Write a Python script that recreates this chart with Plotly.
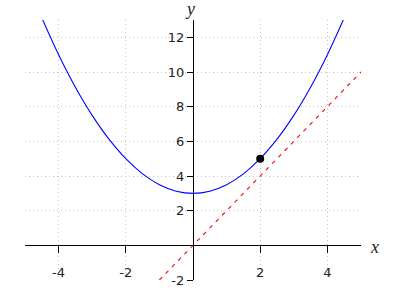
import plotly.graph_objects as go

# Curve points
curve_x = [-4.5, -4.0, -3.5, -3.0, -2.5, -2.0, -1.5, -1.0, -0.5, 0.0,
           0.5, 1.0, 1.5, 2.0, 2.5, 3.0, 3.5, 4.0, 4.5]
curve_y = [13.125, 11.0, 9.125, 7.5, 6.125, 5.0, 4.125, 3.5, 3.125, 3.0,
           3.125, 3.5, 4.125, 5.0, 6.125, 7.5, 9.125, 11.0, 13.125]

# Dashed line end points
line_x = [-1.0, 5.0]
line_y = [-2.0, 10.0]

# Marked point
point_x = [2.0]
point_y = [5.0]

x_ticks = [-4, -2, 2, 4]
x_ticktext = ["-4", "-2", "2", "4"]
y_ticks = [-2, 2, 4, 6, 8, 10, 12]
y_ticktext = ["-2", "2", "4", "6", "8", "10", "12"]

x_range = [-5, 5]
y_range = [-2, 13]

fig = go.Figure()
fig.add_trace(go.Scatter(x=curve_x, y=curve_y, mode="lines",
                         line=dict(color="blue", width=1.1, shape="spline"),
                         hoverinfo="skip"))
fig.add_trace(go.Scatter(x=line_x, y=line_y, mode="lines",
                         line=dict(color="red", width=1.1, dash="4px,5px"),
                         hoverinfo="skip"))
fig.add_trace(go.Scatter(x=point_x, y=point_y, mode="markers",
                         marker=dict(color="black", size=8),
                         hoverinfo="skip"))

axis_font = dict(family="DejaVu Sans", size=13, color="#222")
grid_common = dict(showgrid=True, gridcolor="#c4c4c4", griddash="1px,3px", gridwidth=1,
                   zeroline=False, showline=True, linecolor="black", linewidth=1.2,
                   ticks="outside", tickcolor="black", tickwidth=1.2,
                   tickfont=axis_font, fixedrange=True)

fig.update_layout(
    width=400, height=300,
    margin=dict(l=25, r=39, t=20, b=20),
    paper_bgcolor="white", plot_bgcolor="white",
    showlegend=False,
    xaxis=dict(range=x_range, tickvals=x_ticks, ticktext=x_ticktext,
               anchor="free", position=(0 - y_range[0]) / (y_range[1] - y_range[0]),
               ticklen=7, ticklabelstandoff=8, **grid_common),
    yaxis=dict(range=y_range, tickvals=y_ticks, ticktext=y_ticktext,
               anchor="free", position=(0 - x_range[0]) / (x_range[1] - x_range[0]),
               ticklen=6, **grid_common),
    annotations=[
        dict(x=0, y=1, xref="x", yref="paper", text="<i>y</i>", showarrow=False,
             xanchor="center", yanchor="bottom", xshift=-3, yshift=-1,
             font=dict(family="Liberation Serif", size=18, color="#222")),
        dict(x=1, y=0, xref="paper", yref="y", text="<i>x</i>", showarrow=False,
             xanchor="left", yanchor="middle", xshift=7, yshift=-2,
             font=dict(family="Liberation Serif", size=18, color="#222")),
    ],
)

fig.write_html("out.html")
